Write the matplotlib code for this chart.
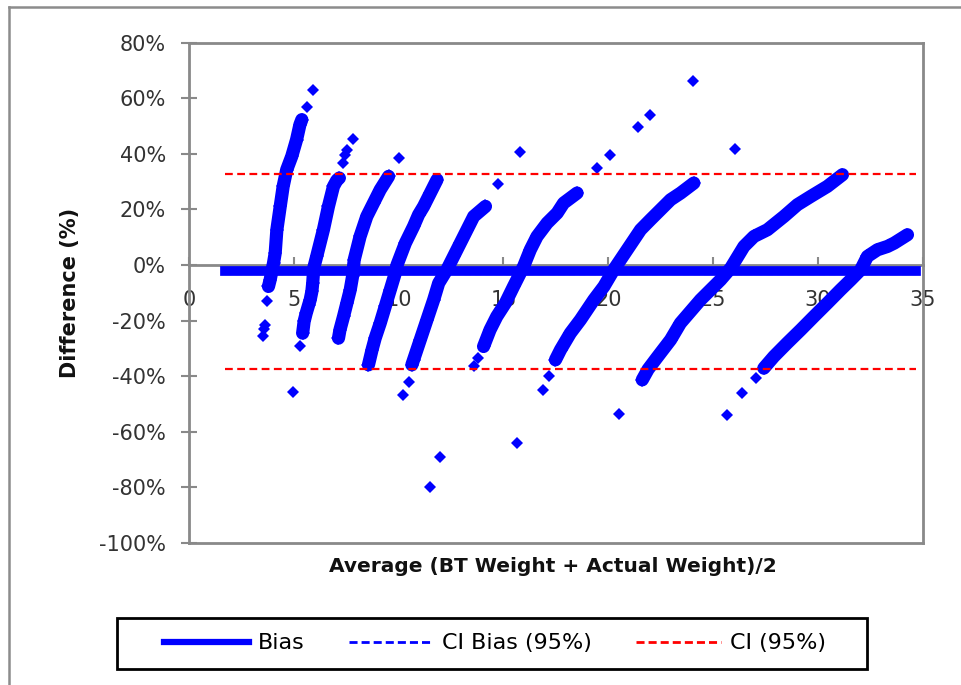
import matplotlib.pyplot as plt
from matplotlib.patches import Rectangle
from matplotlib.lines import Line2D
from matplotlib.ticker import PercentFormatter, MultipleLocator

plt.rcParams['font.family'] = 'DejaVu Sans'
plt.rcParams['axes.unicode_minus'] = False

# dense streaks of points (avg weight, difference %)
streak1_x = [3.79, 3.87, 3.95, 4.03, 4.11, 4.19, 4.35, 4.49, 4.66, 4.90, 5.13, 5.29, 5.38]
streak1_y = [-7.7, -5.3, -2.3, 0.7, 4.3, 12.7, 21.1, 28.3, 34.3, 39.1, 45.1, 50.5, 52.3]
streak2_x = [5.42, 5.49, 5.59, 5.70, 5.78, 5.86, 5.90, 5.95, 6.09, 6.41, 6.65, 6.89, 7.05, 7.17]
streak2_y = [-24.5, -20.3, -17.3, -14.5, -12.5, -9.5, -6.5, -1.0, 3.1, 12.7, 21.1, 28.3, 30.5, 31.3]
streak3_x = [7.13, 7.20, 7.37, 7.53, 7.69, 7.80, 7.88, 8.16, 8.48, 8.80, 9.12, 9.52]
streak3_y = [-26.3, -23.3, -18.5, -13.7, -8.9, -4.1, 1.9, 10.3, 17.5, 22.3, 27.1, 31.9]
streak4_x = [8.56, 8.73, 8.88, 9.12, 9.36, 9.60, 9.84, 9.92, 10.32, 10.71, 10.95, 11.19, 11.51, 11.83]
streak4_y = [-35.9, -30.5, -26.3, -20.9, -14.9, -8.9, -2.9, 0.0, 7.9, 13.9, 18.1, 21.1, 25.9, 30.7]
streak5_x = [10.63, 10.71, 11.03, 11.35, 11.67, 11.91, 12.30, 12.62, 12.94, 13.26, 13.58, 14.14]
streak5_y = [-35.9, -34.1, -26.9, -19.7, -12.5, -6.5, -1.7, 3.1, 7.9, 12.7, 17.5, 21.1]
streak6_x = [14.05, 14.36, 14.68, 15.09, 15.48, 15.96, 16.28, 16.60, 17.08, 17.56, 17.87, 18.51]
streak6_y = [-29.3, -23.3, -18.5, -13.7, -7.7, -0.5, 5.5, 10.3, 15.1, 18.7, 22.3, 25.9]
streak7_x = [17.48, 17.72, 18.19, 18.67, 19.31, 19.79, 20.26, 20.58, 20.90, 21.54, 22.01, 22.49, 22.97, 23.45, 24.08]
streak7_y = [-34.1, -30.5, -24.5, -19.7, -12.5, -7.7, -1.7, 1.9, 5.5, 12.7, 16.3, 19.9, 23.5, 25.9, 29.5]
streak8_x = [21.62, 21.90, 22.30, 22.97, 23.44, 23.92, 24.40, 24.88, 25.36, 25.84, 26.47, 26.95, 27.59,
             28.38, 29.02, 29.66, 30.45, 31.17]
streak8_y = [-41.3, -37.5, -33.5, -26.9, -20.9, -16.7, -12.5, -8.9, -5.3, -1.1, 6.7, 10.3, 12.7,
             17.5, 21.7, 24.7, 28.3, 32.5]
streak9_x = [27.42, 27.90, 28.53, 29.18, 29.81, 30.45, 31.08, 31.57, 32.04, 32.36, 32.84, 33.32, 33.64, 34.27]
streak9_y = [-37.1, -32.9, -28.1, -23.3, -18.5, -13.7, -8.9, -5.3, -1.7, 3.1, 5.5, 6.7, 7.9, 10.9]

# scattered single points
single_x = [3.51, 3.56, 3.62, 3.74, 5.61, 5.91, 5.27, 4.98, 7.33, 7.45, 7.55, 7.81, 10.0, 10.47, 10.20,
            11.95, 11.50, 13.60, 13.78, 14.74, 15.81, 15.64, 16.88, 17.16, 19.47, 20.07, 21.41, 22.0,
            24.04, 26.03, 20.53, 25.64, 26.39, 27.03]
single_y = [-25.5, -23.0, -21.5, -13.1, 56.8, 63.1, -29.3, -45.5, 36.7, 39.5, 41.5, 45.3, 38.5, -41.9, -46.7,
            -68.9, -79.7, -36.5, -33.5, 29.1, 40.6, -63.9, -44.9, -39.9, 34.9, 39.7, 49.6, 54.1,
            66.1, 41.9, -53.7, -53.9, -46.1, -40.7]

line_x = [1.72, 34.7]
bias = -2.3
ci_bias = [-1.4, -3.2]
ci = [32.8, -37.4]

labels = ["Bias", "CI Bias (95%)", "CI (95%)"]

grey = '#898989'
blue = '#0000ff'
red = '#ff0000'

fig = plt.figure(figsize=(9.61, 6.85), dpi=100)
ax = fig.add_axes([0.1967, 0.2073, 0.7635, 0.7304])

streaks = [(streak1_x, streak1_y), (streak2_x, streak2_y), (streak3_x, streak3_y),
           (streak4_x, streak4_y), (streak5_x, streak5_y), (streak6_x, streak6_y),
           (streak7_x, streak7_y), (streak8_x, streak8_y), (streak9_x, streak9_y)]
for xs, ys in streaks:
    ax.plot(xs, ys, color=blue, lw=9.5, solid_capstyle='round', solid_joinstyle='round',
            marker='D', ms=7, mew=0, zorder=3)
ax.plot(single_x, single_y, ls='none', marker='D', ms=6.5, mew=0, color=blue, zorder=3)

ax.plot(line_x, [bias, bias], color=blue, lw=7, zorder=3)
for v in ci_bias:
    ax.plot(line_x, [v, v], color=blue, lw=1.5, ls=(0, (3, 2)), zorder=3)
for v in ci:
    ax.plot(line_x, [v, v], color=red, lw=1.6, ls=(0, (3.5, 2)), zorder=4)

ax.set_xlim(0, 35)
ax.set_ylim(-100, 80)
ax.xaxis.set_major_locator(MultipleLocator(5))
ax.yaxis.set_major_locator(MultipleLocator(20))
ax.yaxis.set_major_formatter(PercentFormatter(decimals=0))

ax.spines['bottom'].set_position(('data', 0))
for s in ax.spines.values():
    s.set_color(grey)
    s.set_linewidth(2)
# bottom border of plot area
ax.plot([0, 1], [0, 0], transform=ax.transAxes, color=grey, lw=2, clip_on=False)

ax.tick_params(axis='x', direction='in', length=6, width=1.5, color=grey, pad=18,
               labelsize=15, labelcolor='#333333')
ax.tick_params(axis='y', direction='inout', length=11, width=1.5, color=grey, pad=11,
               labelsize=15, labelcolor='#333333')

fig.text(553 / 961, 1 - 566 / 685, "Average (BT Weight + Actual Weight)/2", ha='center', va='center',
         fontsize=14.5, fontweight='bold', color='#111111')
fig.text(70 / 961, 1 - 293 / 685, "Difference (%)", ha='center', va='center', rotation=90,
         fontsize=15, fontweight='bold', color='#111111')

handles = [Line2D([], [], color=blue, lw=4.5),
           Line2D([], [], color=blue, lw=2, ls=(0, (2.9, 1.45))),
           Line2D([], [], color=red, lw=2, ls=(0, (2.9, 1.45)))]
fig.legend(handles, labels, loc='center', bbox_to_anchor=(0.5150, 0.0606), ncol=3, frameon=False,
           fontsize=16, handlelength=3.8, handletextpad=0.4, columnspacing=2.0)
fig.add_artist(Rectangle((117 / 961, 1 - 669 / 685), 750 / 961, 51 / 685, transform=fig.transFigure,
                         fill=False, edgecolor='black', lw=2))

# outer chart frame (top and left visible)
fig.add_artist(Line2D([9 / 961, 1], [1 - 7 / 685, 1 - 7 / 685], transform=fig.transFigure, color='#8c8c8c', lw=1.8))
fig.add_artist(Line2D([9 / 961, 9 / 961], [0, 1 - 7 / 685], transform=fig.transFigure, color='#8c8c8c', lw=1.8))

fig.savefig('out.png', dpi=100)
